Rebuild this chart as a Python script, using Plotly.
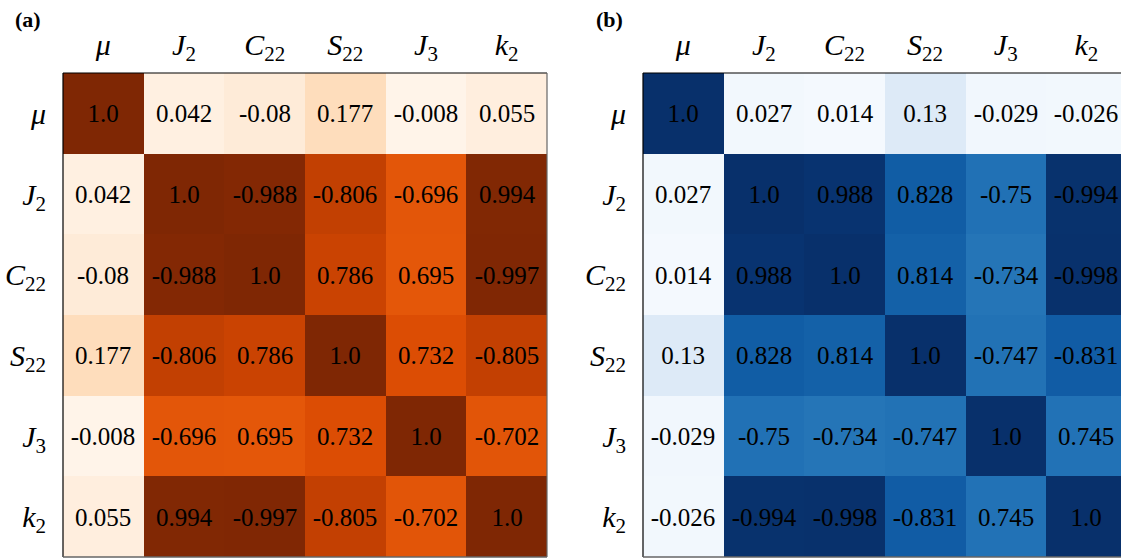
import plotly.graph_objects as go

labels = ["<i>μ</i>", "<i>J</i><sub>2</sub>", "<i>C</i><sub>22</sub>",
          "<i>S</i><sub>22</sub>", "<i>J</i><sub>3</sub>", "<i>k</i><sub>2</sub>"]

corr_a = [
    [1.0, 0.042, -0.08, 0.177, -0.008, 0.055],
    [0.042, 1.0, -0.988, -0.806, -0.696, 0.994],
    [-0.08, -0.988, 1.0, 0.786, 0.695, -0.997],
    [0.177, -0.806, 0.786, 1.0, 0.732, -0.805],
    [-0.008, -0.696, 0.695, 0.732, 1.0, -0.702],
    [0.055, 0.994, -0.997, -0.805, -0.702, 1.0],
]

corr_b = [
    [1.0, 0.027, 0.014, 0.13, -0.029, -0.026],
    [0.027, 1.0, 0.988, 0.828, -0.75, -0.994],
    [0.014, 0.988, 1.0, 0.814, -0.734, -0.998],
    [0.13, 0.828, 0.814, 1.0, -0.747, -0.831],
    [-0.029, -0.75, -0.734, -0.747, 1.0, 0.745],
    [-0.026, -0.994, -0.998, -0.831, 0.745, 1.0],
]

W, H = 1121, 558
FONT = "Liberation Serif"
idx = list(range(len(labels)))

fig = go.Figure()

def add_panel(mat, cscale, xa, ya):
    z = [[abs(v) for v in row] for row in mat]
    txt = [[str(v) for v in row] for row in mat]
    fig.add_trace(go.Heatmap(
        z=z, x=idx, y=idx, text=txt, texttemplate="%{text}",
        textfont=dict(family=FONT, size=25, color="black"),
        colorscale=cscale, zmin=0, zmax=1, showscale=False,
        xaxis=xa, yaxis=ya, hoverinfo="skip"))

add_panel(corr_a, "Oranges", "x", "y")
add_panel(corr_b, "Blues", "x2", "y2")

ytop = 1 - 73 / H
ybot = 1 - 557 / H
ax_common = dict(tickvals=idx, ticktext=labels, showgrid=False, zeroline=False,
                 ticks="outside", tickcolor="rgba(0,0,0,0)",
                 tickfont=dict(family=FONT, size=30, color="black"))

fig.update_layout(
    width=W, height=H,
    margin=dict(l=0, r=0, t=0, b=0),
    paper_bgcolor="white", plot_bgcolor="white",
    xaxis=dict(domain=[63 / W, 547 / W], range=[-0.5, 5.5], side="top",
               anchor="y", ticklen=5, **ax_common),
    yaxis=dict(domain=[ybot, ytop], range=[5.5, -0.5], anchor="x",
               ticklen=10, **ax_common),
    xaxis2=dict(domain=[643 / W, 1.0], range=[-0.5, 5.43], side="top",
                anchor="y2", ticklen=5, **ax_common),
    yaxis2=dict(domain=[ybot, ytop], range=[5.5, -0.5], anchor="x2",
                ticklen=10, **ax_common),
    showlegend=False,
)

def frame(xref, yref, right=True):
    fig.add_shape(type="line", xref=xref, yref=yref, x0=0, x1=0, y0=0, y1=1,
                  line=dict(color="black", width=1.2))
    fig.add_shape(type="line", xref=xref, yref=yref, x0=0, x1=1, y0=1, y1=1,
                  line=dict(color="black", width=1.2))
    fig.add_shape(type="line", xref=xref, yref=yref, x0=0, x1=1, y0=0, y1=0,
                  line=dict(color="#666666", width=1.5))
    if right:
        fig.add_shape(type="line", xref=xref, yref=yref, x0=1, x1=1, y0=0, y1=1,
                      line=dict(color="#666666", width=1.2))

frame("x domain", "y domain", True)
frame("x2 domain", "y2 domain", False)

fig.add_annotation(text="<b>(a)</b>", x=13 / W, y=1 - 19 / H, xref="paper", yref="paper",
                   xanchor="left", yanchor="middle", showarrow=False,
                   font=dict(family=FONT, size=22, color="black"))
fig.add_annotation(text="<b>(b)</b>", x=594 / W, y=1 - 19 / H, xref="paper", yref="paper",
                   xanchor="left", yanchor="middle", showarrow=False,
                   font=dict(family=FONT, size=22, color="black"))

fig.write_html("out.html",
               config={"displayModeBar": False},
               post_script="document.body.style.margin='0';"
                           "document.body.style.overflow='hidden';")
